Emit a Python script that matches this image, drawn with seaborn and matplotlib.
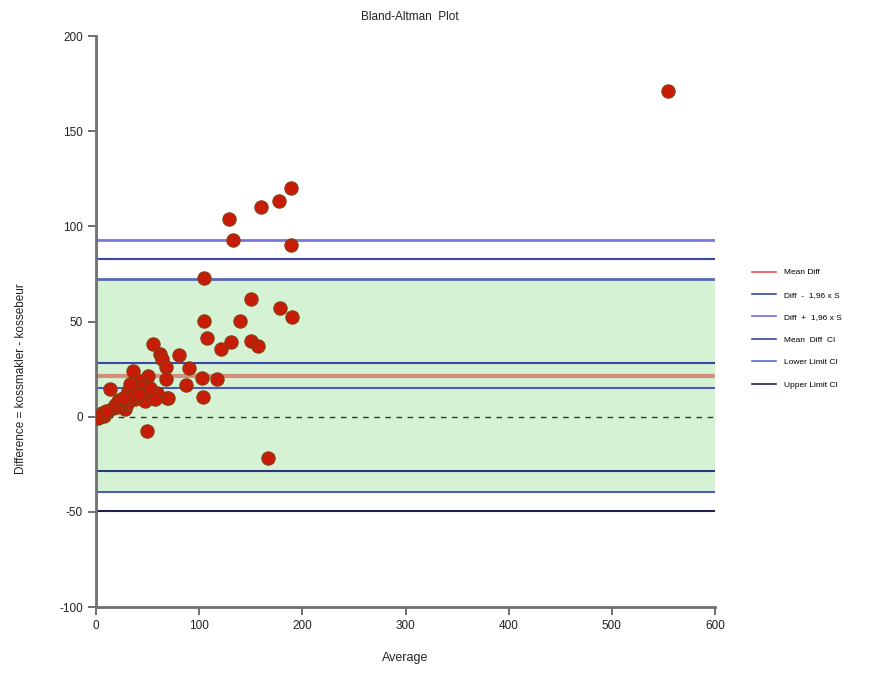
import numpy as np
import pandas as pd
import matplotlib
matplotlib.use("Agg")
import matplotlib.pyplot as plt
from matplotlib.lines import Line2D
import seaborn as sns

# ---- data ----
average = [554, 129, 160, 177, 189, 133, 189, 105, 150, 140, 105, 178, 190,
           108, 121, 131, 150, 157, 55, 62, 80, 64, 68, 90, 36, 50, 68, 103,
           117, 87, 14, 104, 69, 57, 49, 167, 43, 31, 45, 59, 70, 21, 38,
           47, 57, 16, 28, 9, 2, 8, 30, 25, 12, 5, 3, 20, 35, 40, 18, 22, 6, 10,
           33, 42, 26, 52]
difference = [171, 104, 110, 113.5, 120, 93, 90, 73, 62, 50.5, 50.5, 57, 52.5,
              41.5, 35.7, 39, 40, 37, 38, 33, 32.5, 30.5, 26, 25.7, 24, 21.5,
              20, 20.5, 20, 16.8, 14.7, 10.5, 10, 10, -7.5, -21.5, 19, 13.7,
              14.7, 12.6, 10, 8.4, 9.5, 8.4, 9.5, 4.7, 4.2, 2, -0.5, 0.5, 6.8,
              7, 3, 1, 0, 5, 11, 16, 6, 9, 2, 3,
              17, 12, 10, 15]

mean_diff = 21.5
mean_diff_ci = [15.2, 28.4]
lower_loa = -39.4
upper_loa = 83.0
lower_loa_ci = [-49.4, -28.4]
upper_loa_ci = [72.5, 93.0]

legend_labels = ["Mean Diff", "Diff  -  1,96 x S", "Diff  +  1,96 x S",
                 "Mean  Diff  CI", "Lower Limit CI", "Upper Limit CI"]

df = pd.DataFrame({"Average": average, "Difference": difference})

plt.rcParams["font.family"] = ["Liberation Sans", "DejaVu Sans"]
plt.rcParams["axes.unicode_minus"] = False
fig = plt.figure(figsize=(8.73, 6.73), dpi=100)
ax = fig.add_axes([0.110, 0.098, 0.709, 0.8485])

ax.axhspan(lower_loa, upper_loa_ci[0], color="#d5f2d5", zorder=0, lw=0)

line_specs = [
    (upper_loa_ci[1], "#7878dc", 2.0),
    (upper_loa, "#3848a8", 1.5),
    (upper_loa_ci[0], "#5868b4", 2.0),
    (mean_diff_ci[1], "#3848a8", 1.5),
    (mean_diff, "#d4907a", 3.0),
    (mean_diff_ci[0], "#4a5ac8", 1.5),
    (lower_loa_ci[1], "#283878", 1.5),
    (lower_loa, "#4a5ac8", 1.5),
    (lower_loa_ci[0], "#202050", 1.5),
]
for yv, col, lw in line_specs:
    ax.axhline(yv, color=col, lw=lw, zorder=1)
ax.axhline(0, color="#333333", lw=1.0, ls=(0, (4, 4)), zorder=1)

sns.scatterplot(data=df, x="Average", y="Difference", ax=ax, s=90,
                color="#c91c08", edgecolor="#8a3c10", linewidth=0.9,
                zorder=3, legend=False)

ax.set_xlim(0, 600)
ax.set_ylim(-100, 200)
ax.set_xticks(range(0, 601, 100))
ax.set_yticks(range(-100, 201, 50))
for side in ["top", "right"]:
    ax.spines[side].set_visible(False)
for side in ["left", "bottom"]:
    ax.spines[side].set_color("#707070")
    ax.spines[side].set_linewidth(2)
ax.tick_params(direction="out", length=6, width=1.2, color="#555555",
               labelsize=8.5, labelcolor="#222222")
ax.set_xlabel("Average", fontsize=9, labelpad=14, color="#222222")
ax.set_ylabel("Difference = kossmakler - kossebeur", fontsize=8.5,
              color="#222222")
ax.yaxis.set_label_coords(-0.112, 0.40)
fig.text(0.47, 0.975, "Bland-Altman  Plot", ha="center", va="center",
         fontsize=8.5, color="#222222")

handles = [
    Line2D([], [], color="#e05050", lw=1.2),
    Line2D([], [], color="#3848a8", lw=1.2),
    Line2D([], [], color="#7070e0", lw=1.2),
    Line2D([], [], color="#3848a8", lw=1.2),
    Line2D([], [], color="#5a6ad0", lw=1.2),
    Line2D([], [], color="#202050", lw=1.2),
]
fig.legend(handles, legend_labels, loc="upper left",
           bbox_to_anchor=(0.853, 0.612), frameon=False, fontsize=6,
           handlelength=2.8, labelspacing=1.75, handletextpad=1.0)

fig.savefig("out.png", dpi=100)
